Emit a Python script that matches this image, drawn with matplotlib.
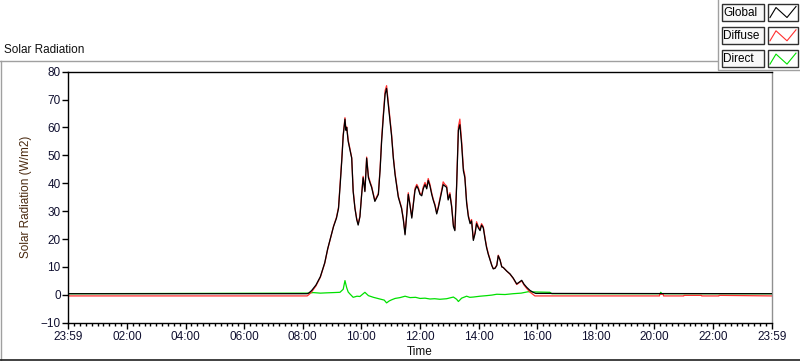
import matplotlib
matplotlib.use("Agg")
import matplotlib.pyplot as plt
from matplotlib.patches import Rectangle
from matplotlib.lines import Line2D
from matplotlib.ticker import MultipleLocator

# ---------------- data (time in hours since 23:59) ----------------
global_time = [0, 8.15, 8.2, 8.3, 8.45, 8.6, 8.75, 8.85, 8.95, 9.05, 9.15, 9.22, 9.28, 9.33,
               9.38, 9.44, 9.47, 9.50, 9.55, 9.61, 9.67, 9.72, 9.78, 9.84, 9.89, 9.95, 10.01,
               10.06, 10.12, 10.18, 10.24, 10.30, 10.35, 10.46, 10.58, 10.64, 10.69, 10.75,
               10.81, 10.86, 10.92, 10.97, 11.03, 11.09, 11.15, 11.26, 11.37, 11.43, 11.49,
               11.55, 11.60, 11.66, 11.72, 11.78, 11.83, 11.89, 11.94, 12.00, 12.06, 12.11,
               12.17, 12.23, 12.28, 12.34, 12.40, 12.45, 12.51, 12.57, 12.62, 12.68, 12.74,
               12.79, 12.85, 12.91, 12.96, 13.02, 13.08, 13.14, 13.19, 13.25, 13.31, 13.36,
               13.42, 13.48, 13.53, 13.59, 13.65, 13.71, 13.76, 13.82, 13.88, 13.93, 13.99,
               14.05, 14.10, 14.16, 14.22, 14.27, 14.33, 14.39, 14.45, 14.50, 14.56, 14.62,
               14.67, 14.73, 14.79, 14.84, 14.96, 15.07, 15.18, 15.30, 15.38, 15.47, 15.55,
               15.64, 15.75, 15.86, 15.95, 24]
global_vals = [0.4, 0.4, 0.6, 1.5, 3.5, 6.5, 11.5, 16.5, 20.5, 24.5, 27.5, 31, 40, 48,
               57, 63, 59, 60, 55, 52, 49, 37, 31, 27, 25, 28, 36,
               42, 37, 49, 42, 40, 38.5, 33.5, 36, 45, 55, 64,
               72, 74, 68, 63, 57, 49, 43, 35, 31, 27, 21.5,
               29, 36, 32, 27.5, 33, 37.5, 39, 38, 36, 35.5, 38,
               39.5, 38, 41, 39, 36, 34, 32, 29, 31, 34, 37,
               39.5, 39, 38.5, 34, 36, 31.5, 24.5, 23, 39, 59, 61,
               54, 44.5, 42, 33, 28, 25.5, 26.5, 19.5, 22, 25.5, 24,
               23, 25, 24, 20, 17, 14.5, 12.5, 10.5, 9.3, 9.5, 10.5,
               14, 12.5, 10, 9.8, 8.5, 7.5, 6, 3.9, 4.5, 5.2, 3.8,
               2.7, 1.6, 0.9, 0.5, 0.4]

diffuse_time = [0, 8.15, 8.2, 8.3, 8.45, 8.6, 8.75, 8.85, 8.95, 9.05, 9.15, 9.22, 9.28, 9.33,
                9.38, 9.44, 9.47, 9.50, 9.55, 9.61, 9.67, 9.72, 9.78, 9.84, 9.89, 9.95, 10.01,
                10.06, 10.12, 10.18, 10.24, 10.30, 10.35, 10.46, 10.58, 10.64, 10.69, 10.75,
                10.81, 10.86, 10.92, 10.97, 11.03, 11.09, 11.15, 11.26, 11.37, 11.43, 11.49,
                11.55, 11.60, 11.66, 11.72, 11.78, 11.83, 11.89, 11.94, 12.00, 12.06, 12.11,
                12.17, 12.23, 12.28, 12.34, 12.40, 12.45, 12.51, 12.57, 12.62, 12.68, 12.74,
                12.79, 12.85, 12.91, 12.96, 13.02, 13.08, 13.14, 13.19, 13.25, 13.31, 13.36,
                13.42, 13.48, 13.53, 13.59, 13.65, 13.71, 13.76, 13.82, 13.88, 13.93, 13.99,
                14.05, 14.10, 14.16, 14.22, 14.27, 14.33, 14.39, 14.45, 14.50, 14.56, 14.62,
                14.67, 14.73, 14.79, 14.84, 14.96, 15.07, 15.18, 15.30, 15.38, 15.47, 15.55,
                15.64, 15.75, 15.86, 15.92, 20.17, 20.18, 20.30, 20.31, 21.0, 21.01, 21.6,
                21.61, 22.2, 22.21, 24]
diffuse_vals = [-0.4, -0.4, 0.0, 1.0, 3.2, 6.3, 11.3, 16.3, 20.5, 24.6, 27.8, 31.4, 40.5, 48.6,
                57.5, 63.5, 59.5, 60.2, 55.5, 52.3, 49.2, 37.5, 31.2, 27.4, 25.4, 28.2, 36.4,
                42.5, 37.3, 49.4, 42.6, 40.4, 38.9, 33.8, 36.4, 45.6, 55.8, 65,
                73.2, 75, 69, 63.8, 57.6, 49.5, 43.6, 35.4, 31.3, 27.4, 22,
                29.5, 36.6, 32.4, 28, 33.6, 38.2, 39.6, 38.6, 36.4, 36, 38.6,
                40.3, 38.6, 41.7, 39.6, 36.5, 34.4, 32.4, 29.4, 31.5, 34.6, 37.6,
                40.5, 39.6, 39, 34.5, 36.6, 32, 25, 23.4, 39.8, 60.3, 63,
                55.2, 45.4, 42.8, 33.6, 28.5, 26, 27, 20, 22.5, 26.2, 24.5,
                23.5, 25.5, 24.4, 20.4, 17.4, 14.8, 12.7, 10.6, 9.4, 9.6, 10.7,
                14.2, 12.6, 10.1, 9.8, 8.5, 7.4, 5.9, 3.7, 4.3, 5.0, 3.5,
                2.3, 1.0, 0.1, -0.4, -0.4, 0.2, 0.2, -0.4, -0.4, -0.2, -0.2,
                -0.4, -0.4, -0.2, -0.4]

direct_time = [0, 8.2, 8.36, 8.6, 8.8, 9.05, 9.27, 9.38, 9.44, 9.50, 9.55, 9.61, 9.72, 9.85,
               9.95, 10.12, 10.24, 10.41, 10.63, 10.78, 10.86, 10.95, 11.03, 11.15, 11.32,
               11.49, 11.66, 11.85, 12.0, 12.17, 12.34, 12.5, 12.68, 12.91, 13.14, 13.25,
               13.31, 13.42, 13.59, 13.7, 13.82, 14.05, 14.27, 14.45, 14.62, 14.9, 15.18,
               15.45, 15.69, 16.0, 16.43, 16.5, 20.2, 20.21, 20.25, 24]
direct_vals = [0.4, 0.6, 0.8, 0.6, 0.7, 0.8, 0.9, 2.0, 5.1, 2.5, 1.0, 0.3, -0.9, -0.5,
               -0.6, 0.9, -0.3, -0.9, -1.5, -1.9, -2.9, -2.2, -1.8, -1.3, -1.0,
               -0.5, -1.0, -0.9, -1.3, -1.2, -1.5, -1.4, -1.6, -1.4, -0.8, -1.6,
               -2.4, -1.2, -0.5, -0.9, -0.8, -0.5, -0.3, -0.1, 0.2, 0.1, 0.4,
               0.6, 1.1, 1.0, 0.9, 0.4, 0.4, 0.9, 0.4, 0.4]

x_tick_pos = [0, 2, 4, 6, 8, 10, 12, 14, 16, 18, 20, 22, 24]
x_tick_labels = ["23:59", "02:00", "04:00", "06:00", "08:00", "10:00", "12:00",
                 "14:00", "16:00", "18:00", "20:00", "22:00", "23:59"]
y_ticks = [-10, 0, 10, 20, 30, 40, 50, 60, 70, 80]
legend_names = ["Global", "Diffuse", "Direct"]
legend_colors = ["#000000", "#ff3030", "#00e000"]

# ---------------- figure ----------------
W, H = 800, 361
FS = 8.5
plt.rcParams['font.family'] = ['Liberation Sans', 'DejaVu Sans']
fig = plt.figure(figsize=(W / 100, H / 100), dpi=100)
fig.patch.set_facecolor("white")


def fx(x):
    return x / W


def fy(y):
    return 1 - y / H


ax_l, ax_r, ax_t, ax_b = 68.3, 771.7, 71.7, 322.7
ax = fig.add_axes([fx(ax_l), fy(ax_b), (ax_r - ax_l) / W, (ax_b - ax_t) / H])
ax.set_facecolor("white")

ax.plot(direct_time, direct_vals, color=legend_colors[2], lw=0.9, zorder=1)
ax.plot(diffuse_time, diffuse_vals, color=legend_colors[1], lw=0.9, zorder=2)
ax.plot(global_time, global_vals, color=legend_colors[0], lw=0.9, zorder=3)

ax.set_xlim(0, 24)
ax.set_ylim(-10, 80)
ax.set_xticks(x_tick_pos)
ax.set_xticklabels(x_tick_labels)
ax.xaxis.set_minor_locator(MultipleLocator(0.2))
ax.set_yticks(y_ticks)
ax.tick_params(axis='both', which='major', direction='out', length=4, width=1,
               colors='black', labelsize=FS, pad=1.5)
ax.tick_params(axis='x', which='minor', direction='out', length=2.5, width=1, colors='black')
ax.tick_params(axis='x', which='major', pad=2)
for lab in ax.get_xticklabels() + ax.get_yticklabels():
    lab.set_color('#101030')

for s in ['left', 'bottom', 'top']:
    ax.spines[s].set_color('black')
    ax.spines[s].set_linewidth(1)
ax.spines['right'].set_color('#909090')
ax.spines['right'].set_linewidth(1)

ax.set_ylabel("Solar Radiation (W/m2)", fontsize=FS, color='#4a2a10')
ax.yaxis.set_label_coords((32 - ax_l) / (ax_r - ax_l), 0.5)
ax.set_xlabel("Time", fontsize=FS, color='#101010')
ax.xaxis.set_label_coords(0.5, -(346 - ax_b) / (ax_b - ax_t))

# title
fig.text(fx(3.5), fy(50), "Solar Radiation", fontsize=FS, ha='left', va='center', color='#101010')

# outer frame
frame_col = '#a0a0a0'
fig.add_artist(Line2D([fx(0), fx(717)], [fy(61), fy(61)], color=frame_col, lw=1))
fig.add_artist(Line2D([fx(0.5), fx(0.5)], [fy(61), fy(361)], color=frame_col, lw=1))
fig.add_artist(Line2D([fx(0), fx(800)], [fy(360.3), fy(360.3)], color='#202020', lw=1.2))

# legend panel
panel = Rectangle((fx(717.5), fy(69.5)), fx(800 - 717.5) + 0.01, (69.5 + 5) / H,
                  transform=fig.transFigure, facecolor='white', edgecolor=frame_col,
                  lw=1, zorder=10)
fig.add_artist(panel)
row_y = [3.5, 26.8, 50.1]
for name, col, y0 in zip(legend_names, legend_colors, row_y):
    h = 17
    tb = Rectangle((fx(721.5), fy(y0 + h)), (763.5 - 721.5) / W, h / H,
                   transform=fig.transFigure, facecolor='#f8f8f8', edgecolor='#303030',
                   lw=1, zorder=11)
    fig.add_artist(tb)
    fig.text(fx(723.5), fy(y0 + h / 2 + 0.5), name, fontsize=FS, ha='left', va='center',
             color='black', zorder=12)
    sb = Rectangle((fx(768), fy(y0 + h)), (797.5 - 768) / W, h / H,
                   transform=fig.transFigure, facecolor='white', edgecolor='#303030',
                   lw=1, zorder=11)
    fig.add_artist(sb)
    xs = [770, 776, 787, 796]
    ys = [y0 + 14, y0 + 4, y0 + 14, y0 + 3]
    fig.add_artist(Line2D([fx(v) for v in xs], [fy(v) for v in ys], color=col, lw=0.8,
                          zorder=12))

fig.savefig("out.png", dpi=100, facecolor='white')
